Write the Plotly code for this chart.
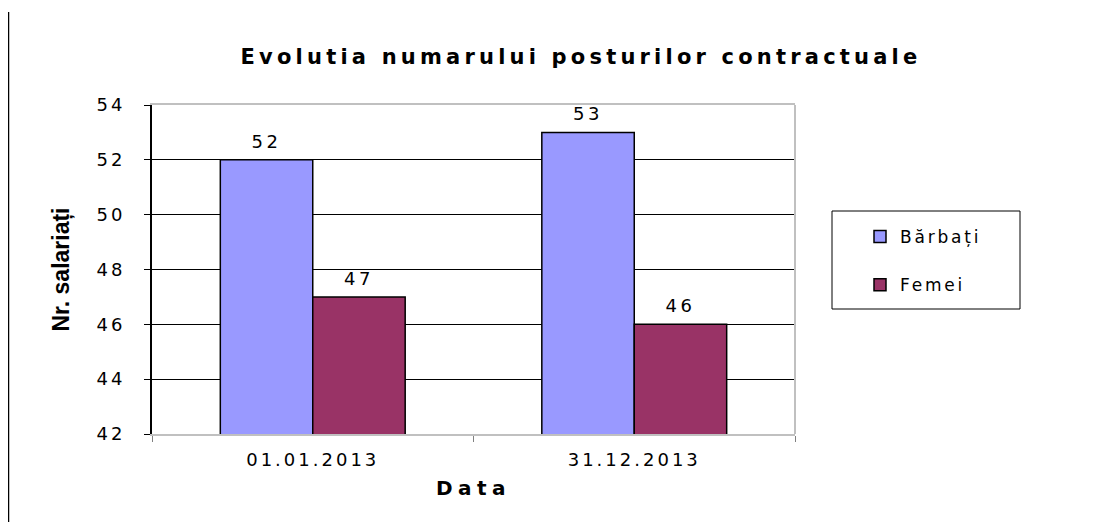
import plotly.graph_objects as go

categories = ["01.01.2013", "31.12.2013"]
barbati = [52, 53]
femei = [47, 46]
series_names = ["Bărbați", "Femei"]
y_ticks = [42, 44, 46, 48, 50, 52, 54]

# the page body has an 8px margin, so figure coords = screen coords - 8
O = 8
W, H = 1103 - O, 522 - O
L, R, T, B = 152 - O, 795 - O, 105 - O, 434 - O
pw, ph = R - L, B - T

def px(x):  # screen x -> paper
    return (x - O - L) / pw

def py(y):  # screen y -> paper
    return (B - (y - O)) / ph

font_main = "DejaVu Sans, Liberation Sans, Arial, sans-serif"

fig = go.Figure()
fig.add_trace(go.Bar(
    x=categories, y=barbati, name=series_names[0], legendgroup="a",
    marker=dict(color="#9999FF", line=dict(color="black", width=1.5)),
    text=[str(v) for v in barbati], textposition="outside",
    textfont=dict(size=18, color="black", family=font_main),
    cliponaxis=False,
))
fig.add_trace(go.Bar(
    x=categories, y=femei, name=series_names[1], legendgroup="b",
    marker=dict(color="#993366", line=dict(color="black", width=1.5)),
    text=[str(v) for v in femei], textposition="outside",
    textfont=dict(size=18, color="black", family=font_main),
    cliponaxis=False,
))

fig.update_layout(
    width=W, height=H,
    margin=dict(l=L, r=W - R, t=T, b=H - B, pad=0),
    paper_bgcolor="white", plot_bgcolor="white",
    barmode="group", bargap=0.425, bargroupgap=0,
    font=dict(family=font_main, color="black", size=18),
    title=dict(
        text="<b>Evolutia numarului posturilor contractuale</b>",
        font=dict(size=21, family=font_main, color="black"),
        xref="container", x=(581 - O) / W, xanchor="center",
        yref="container", y=1 - (57 - O) / H, yanchor="middle",
    ),
    xaxis=dict(
        type="category",
        showline=True, linecolor="#C0C0C0", linewidth=2, mirror=True,
        ticks="outside", tickson="boundaries", tickcolor="#808080", ticklen=6,
        ticklabelstandoff=8,
        tickfont=dict(size=18, family=font_main, color="black"),
        showgrid=False,
        title=dict(text="<b>Data</b>", font=dict(size=20, family=font_main), standoff=12),
    ),
    yaxis=dict(
        range=[42, 54], tickvals=y_ticks,
        showline=True, linecolor="black", linewidth=2,
        ticks="outside", ticklen=6, tickcolor="black",
        ticklabelstandoff=15,
        tickfont=dict(size=18, family=font_main, color="black"),
        showgrid=True, gridcolor="black", gridwidth=1,
        zeroline=False,
        title=dict(text="<b>Nr. salariați</b>",
                   font=dict(size=23, family="Liberation Sans, Arial, sans-serif"),
                   standoff=26),
    ),
    legend=dict(
        x=px(860), xanchor="left", y=py(219), yanchor="top",
        bgcolor="rgba(0,0,0,0)", borderwidth=0,
        traceorder="grouped", tracegroupgap=23,
        font=dict(size=17, family=font_main, color="black"),
        itemclick=False,
    ),
    showlegend=True,
)

# right frame line (grey), legend box, outer left border line
fig.add_shape(type="line", xref="paper", yref="paper", x0=1, x1=1, y0=0, y1=1,
              line=dict(color="#C0C0C0", width=2))
fig.add_shape(type="rect", xref="paper", yref="paper",
              x0=px(832), x1=px(1020), y0=py(309), y1=py(211),
              line=dict(color="black", width=1), fillcolor="rgba(0,0,0,0)")
fig.add_shape(type="line", xref="paper", yref="paper",
              x0=px(8.5), x1=px(8.5), y0=py(522), y1=py(12),
              line=dict(color="black", width=1.5))

post = """
var gd = document.getElementById('{plot_id}');
function spacing(sel, s) {
  gd.querySelectorAll(sel).forEach(function(t){ t.style.letterSpacing = s + 'px'; });
}
spacing('.gtitle', 4.2);
spacing('.xtick text', 3.0);
spacing('.ytick text', 3.0);
spacing('.legendtext', 2.8);
spacing('.bartext', 3.5);
spacing('.xtitle', 5.5);
gd.querySelectorAll('.legend, .legend *').forEach(function(e){
  if (e.hasAttribute && e.hasAttribute('clip-path')) { e.removeAttribute('clip-path'); }
});
gd.querySelectorAll('.bartext').forEach(function(t){
  var y = parseFloat(t.getAttribute('y'));
  if (!isNaN(y)) { t.setAttribute('y', y - 5); }
});
"""

fig.write_html("out.html", post_script=post)
